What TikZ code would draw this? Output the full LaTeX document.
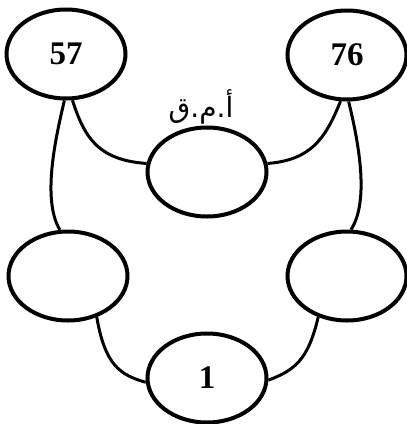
\documentclass[tikz,border=0pt]{standalone}
\usepackage{fontspec}
\setmainfont{Liberation Serif}
\newfontfamily\arabicfont[Script=Arabic]{DejaVu Sans}
\TeXXeTstate=1
\usetikzlibrary{shapes.geometric}
\tikzset{
  oval/.style={draw, ellipse, line width=4pt, minimum width=119pt, minimum height=89pt, inner sep=0pt, font=\fontsize{33}{35}\selectfont\bfseries},
  link/.style={line width=3pt}
}
\begin{document}
\begin{tikzpicture}[x=1pt, y=-1pt]
\useasboundingbox (0,0) rectangle (407,424);
\node[oval] (a57) at (66,54) {57};
\node[oval] (a76) at (347,55) {76};
\node[oval] (gcd) at (207,172) {};
\node[oval] (L) at (68,276) {};
\node[oval] (R) at (347,276) {};
\node[oval] (one) at (207,378) {1};
\node[font=\arabicfont\fontsize{28}{30}\selectfont] (lbl) at (201,107) {\beginR أ.م.ق\endR};
\draw[link] (a57.-92) .. controls (55,140) and (42,200) .. (L.100);
\draw[link] (a57.-82) .. controls (85,140) and (100,160) .. (gcd.172);
\draw[link] (a76.-88) .. controls (358,140) and (370,200) .. (R.85);
\draw[link] (a76.-98) .. controls (325,140) and (310,160) .. (gcd.8);
\draw[link] (L.-55) .. controls (105,365) and (120,375) .. (one.184);
\draw[link] (R.-125) .. controls (308,360) and (295,370) .. (one.-2);
\end{tikzpicture}
\end{document}
